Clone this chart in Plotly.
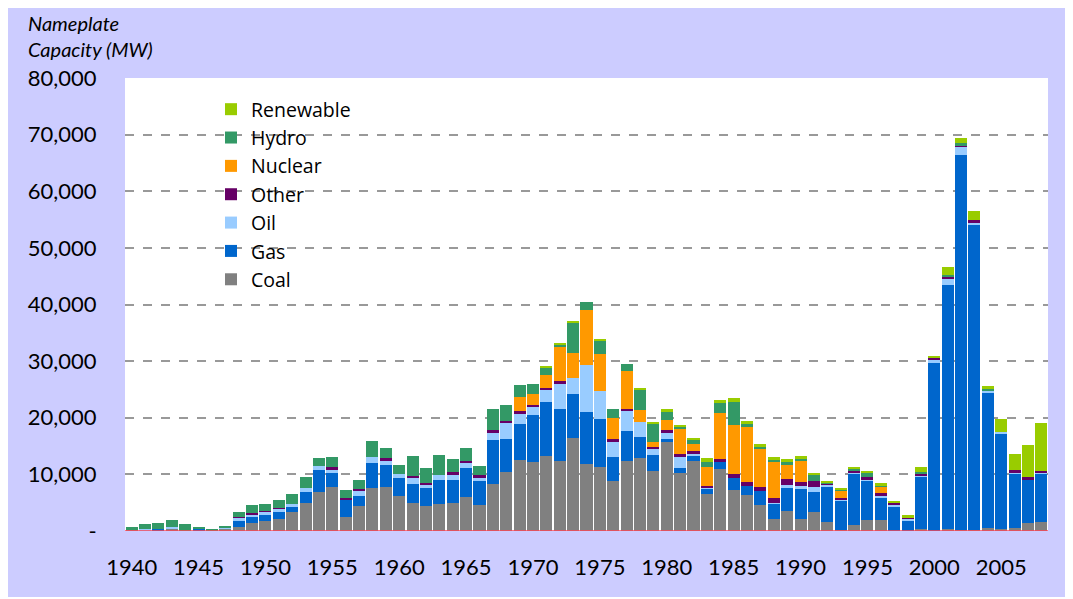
import plotly.graph_objects as go

years = list(range(1940, 2009))

coal = [100, 100, 100, 500, 0, 100, 0, 400, 760, 1410,
        1760, 2120, 3350, 4940, 6880, 7760, 2470, 4410, 7590, 7760,
        6170, 4940, 4410, 4760, 4940, 6000, 4590, 8290, 10410, 12520,
        12170, 13230, 12350, 16400, 11820, 11290, 8820, 12350, 12880, 10580,
        15700, 10230, 12350, 6530, 10940, 7230, 6350, 4590, 2120, 3530,
        2120, 3350, 1590, 100, 1060, 1940, 1940, 0, 0, 350,
        0, 350, 100, 100, 530, 350, 530, 1410, 1590]

gas = [0, 0, 200, 0, 0, 300, 0, 0, 1000, 1235,
       1060, 1235, 1060, 1940, 3880, 2470, 3175, 1760, 4410, 3880,
       3175, 3350, 3175, 4230, 4060, 5120, 4410, 7760, 5820, 6350,
       8290, 9530, 9170, 7760, 9170, 8470, 4230, 5290, 3700, 2820,
       530, 880, 1060, 1060, 1235, 2120, 1590, 2470, 2650, 4230,
       5470, 3530, 6350, 5290, 9170, 7060, 4060, 4410, 1940, 9350,
       29630, 43050, 66260, 53900, 24000, 16930, 9700, 7760, 8640]

oil = [0, 200, 0, 180, 0, 0, 0, 300, 590, 350,
       590, 530, 350, 700, 700, 700, 0, 1060, 1060, 700,
       700, 1235, 700, 880, 1060, 1060, 350, 1410, 3000, 1940,
       1590, 2290, 4590, 2820, 8290, 4940, 2820, 3700, 2650, 1235,
       1235, 2120, 350, 176, 0, 0, 0, 0, 176, 350,
       350, 880, 350, 176, 176, 100, 176, 350, 350, 176,
       700, 1235, 1590, 530, 350, 176, 176, 0, 176]

other = [0, 0, 0, 0, 0, 0, 0, 0, 176, 176,
         176, 176, 0, 0, 0, 350, 176, 176, 0, 530,
         0, 176, 176, 0, 350, 176, 530, 350, 176, 350,
         176, 176, 350, 0, 0, 0, 350, 176, 0, 176,
         350, 350, 350, 176, 530, 700, 700, 700, 880, 1060,
         700, 1060, 176, 350, 350, 350, 530, 350, 176, 350,
         350, 350, 176, 350, 0, 0, 350, 350, 176]

nuclear = [0] * 29 + [
    2470, 1940, 2290, 6000, 4410, 9700, 6530, 3700, 6700, 2120,
    880, 1760, 4410, 1235, 3350, 8110, 8640, 9700, 6700, 6350,
    2470, 3700, 0, 0, 1235, 0, 0, 1235, 0, 0,
    0, 0, 0, 0, 0, 0, 0, 0, 0, 0]

hydro = [600, 900, 1200, 1230, 1200, 300, 350, 176, 820, 1410,
         1180, 1410, 1760, 1940, 1410, 1760, 1410, 1590, 2820, 1760,
         1590, 3530, 2650, 3530, 2290, 2290, 1590, 3700, 2820, 2120,
         1760, 1410, 530, 5470, 1410, 2470, 1590, 1240, 3700, 3350,
         1590, 530, 880, 880, 1760, 4060, 700, 530, 530, 530,
         530, 1235, 176, 176, 350, 880, 176, 0, 0, 176,
         0, 176, 350, 0, 176, 0, 0, 0, 0]

renewable = [0] * 31 + [
    176, 176, 176, 0, 176, 0, 0, 176, 176,
    350, 176, 176, 700, 530, 700, 350, 350, 350, 530,
    350, 176, 176, 176, 176, 176, 350, 176, 350, 880,
    176, 1410, 880, 1590, 530, 2290, 2820, 5640, 8470]

series = [
    ("Coal", coal, "#808080"),
    ("Gas", gas, "#0066CC"),
    ("Oil", oil, "#99CCFF"),
    ("Other", other, "#660066"),
    ("Nuclear", nuclear, "#FF9900"),
    ("Hydro", hydro, "#339966"),
    ("Renewable", renewable, "#99CC00"),
]

y_tickvals = [0, 10000, 20000, 30000, 40000, 50000, 60000, 70000, 80000]
y_ticktext = ["-", "10,000", "20,000", "30,000", "40,000", "50,000", "60,000", "70,000", "80,000"]
x_tickvals = list(range(1940, 2009, 5))

FONT = "Lato, 'Open Sans', sans-serif"
LEGEND_FONT = "'Open Sans', Lato, sans-serif"

# plot area in page pixels (page has an 8px body margin)
PL, PR, PT, PB = 125, 1048, 78, 531
PW, PH = PR - PL, PB - PT


def px_x(x):
    return (x - PL) / PW


def px_y(y):
    return (PB - y) / PH


fig = go.Figure()
for name, vals, color in series:
    fig.add_trace(go.Bar(x=years, y=vals, name=name, marker=dict(color=color, line=dict(width=0))))

fig.update_layout(
    width=1060, height=589,
    barmode="stack", bargap=0.1,
    paper_bgcolor="#CCCCFF", plot_bgcolor="#FFFFFF",
    margin=dict(l=PL - 8, r=1068 - PR, t=PT - 8, b=597 - PB),
    font=dict(family=FONT, size=22, color="#000000"),
    legend=dict(traceorder="reversed", x=px_x(211), y=px_y(90), xanchor="left", yanchor="top",
                bgcolor="rgba(0,0,0,0)", font=dict(size=19.5, family=LEGEND_FONT), itemwidth=30,
                tracegroupgap=0),
    xaxis=dict(range=[1939.5, 2008.5], tickvals=x_tickvals, ticks="outside", ticklen=17,
               tickcolor="rgba(0,0,0,0)", showgrid=False, zeroline=False, showline=False,
               tickfont=dict(size=22)),
    yaxis=dict(range=[0, 80000], tickvals=y_tickvals, ticktext=y_ticktext, ticks="outside",
               ticklen=23, tickcolor="rgba(0,0,0,0)", showgrid=True, gridcolor="#999999",
               griddash="dash", gridwidth=1.5, zeroline=False, showline=False,
               tickfont=dict(size=22)),
    annotations=[
        dict(text="<i>Nameplate<br>Capacity (MW)</i>", xref="paper", yref="paper",
             x=px_x(26), y=px_y(36), xanchor="left", yanchor="middle", align="left",
             showarrow=False, font=dict(size=20, family=FONT)),
    ],
    shapes=[dict(type="line", xref="paper", yref="y", x0=0, x1=1, y0=0, y1=0,
                 line=dict(color="#FF4455", width=1.5), layer="above")],
)

fig.write_html("out.html")
